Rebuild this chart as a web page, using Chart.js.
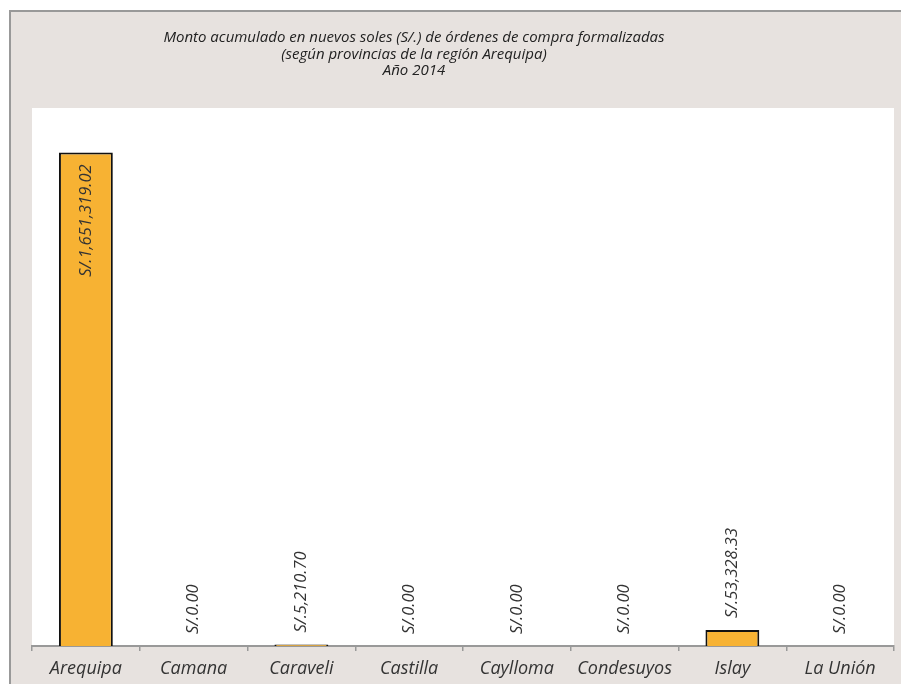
<!DOCTYPE html>
<html>
<head>
<meta charset="utf-8">
<script src="https://cdn.jsdelivr.net/npm/chart.js@4"></script>
<style>
  html, body { margin: 0; padding: 0; background: #ffffff; }
  #wrap { width: 901px; height: 684px; position: relative; }
</style>
</head>
<body>
<div id="wrap"><canvas id="montoChart" width="901" height="684"></canvas></div>
<script>
    // Data
    const provincias = ['Arequipa', 'Camana', 'Caraveli', 'Castilla', 'Caylloma', 'Condesuyos', 'Islay', 'La Unión'];
    const montos = [1651319.02, 0, 5210.70, 0, 0, 0, 53328.33, 0];
    const etiquetas = ['S/.1,651,319.02', 'S/.0.00', 'S/.5,210.70', 'S/.0.00', 'S/.0.00', 'S/.0.00', 'S/.53,328.33', 'S/.0.00'];
    const tituloLineas = [
        'Monto acumulado en nuevos soles (S/.) de órdenes de compra formalizadas',
        '(según provincias de la región Arequipa)',
        'Año 2014'
    ];
    const yMax = 1800000;

    const FONT = '"Open Sans", "Noto Sans", sans-serif';

    // Background frame, white plot area and the title
    const framePlugin = {
        id: 'frame',
        beforeDraw(chart) {
            const c = chart.ctx;
            const a = chart.chartArea;
            c.save();
            c.fillStyle = '#ffffff';
            c.fillRect(0, 0, chart.width, chart.height);
            c.fillStyle = '#e7e2df';
            c.fillRect(10, 11, chart.width - 10, chart.height - 11);
            c.strokeStyle = '#999999';
            c.lineWidth = 2;
            c.beginPath();
            c.moveTo(10, chart.height + 2);
            c.lineTo(10, 11);
            c.lineTo(chart.width + 2, 11);
            c.stroke();
            c.fillStyle = '#ffffff';
            c.fillRect(a.left, a.top, a.right - a.left, a.bottom - a.top);

            c.fillStyle = '#222222';
            c.font = 'italic 15px ' + FONT;
            c.textAlign = 'center';
            c.textBaseline = 'middle';
            tituloLineas.forEach(function(line, i) {
                c.fillText(line, 414, 38 + i * 16.5);
            });
            c.restore();
        }
    };

    // Rotated value labels (inside end for the tall bar, outside end otherwise)
    const valueLabels = {
        id: 'valueLabels',
        afterDatasetsDraw(chart) {
            const c = chart.ctx;
            const meta = chart.getDatasetMeta(0);
            c.save();
            c.fillStyle = '#333333';
            c.font = 'italic 16.5px ' + FONT;
            c.textBaseline = 'middle';
            meta.data.forEach(function(bar, i) {
                const text = etiquetas[i];
                const h = bar.base - bar.y;
                const w = c.measureText(text).width;
                c.save();
                c.translate(bar.x, bar.y);
                c.rotate(-Math.PI / 2);
                if (h > w + 30) {
                    c.textAlign = 'right';
                    c.fillText(text, -12, 0);
                } else {
                    c.textAlign = 'left';
                    c.fillText(text, 12, 0);
                }
                c.restore();
            });
            c.restore();
        }
    };

    const ctx = document.getElementById('montoChart').getContext('2d');
    const montoChart = new Chart(ctx, {
        type: 'bar',
        data: {
            labels: provincias,
            datasets: [{
                data: montos,
                backgroundColor: '#f7b233',
                borderColor: '#111111',
                borderWidth: 2,
                borderSkipped: 'bottom',
                categoryPercentage: 1.0,
                barPercentage: 0.5
            }]
        },
        options: {
            responsive: false,
            animation: false,
            layout: {
                padding: { left: 32, right: 7, top: 108, bottom: 0 }
            },
            plugins: {
                legend: { display: false },
                title: { display: false },
                tooltip: { enabled: false }
            },
            scales: {
                y: {
                    display: false,
                    min: 0,
                    max: yMax
                },
                x: {
                    offset: true,
                    grid: {
                        offset: true,
                        drawOnChartArea: false,
                        tickLength: 5,
                        color: '#999999',
                        lineWidth: 1.5
                    },
                    border: {
                        display: true,
                        color: '#999999',
                        width: 2
                    },
                    ticks: {
                        color: '#333333',
                        padding: 7,
                        maxRotation: 0,
                        font: { family: FONT, size: 18, style: 'italic' }
                    },
                    afterFit: function(scale) {
                        scale.height = 38;
                    }
                }
            }
        },
        plugins: [framePlugin, valueLabels]
    });
</script>
</body>
</html>
